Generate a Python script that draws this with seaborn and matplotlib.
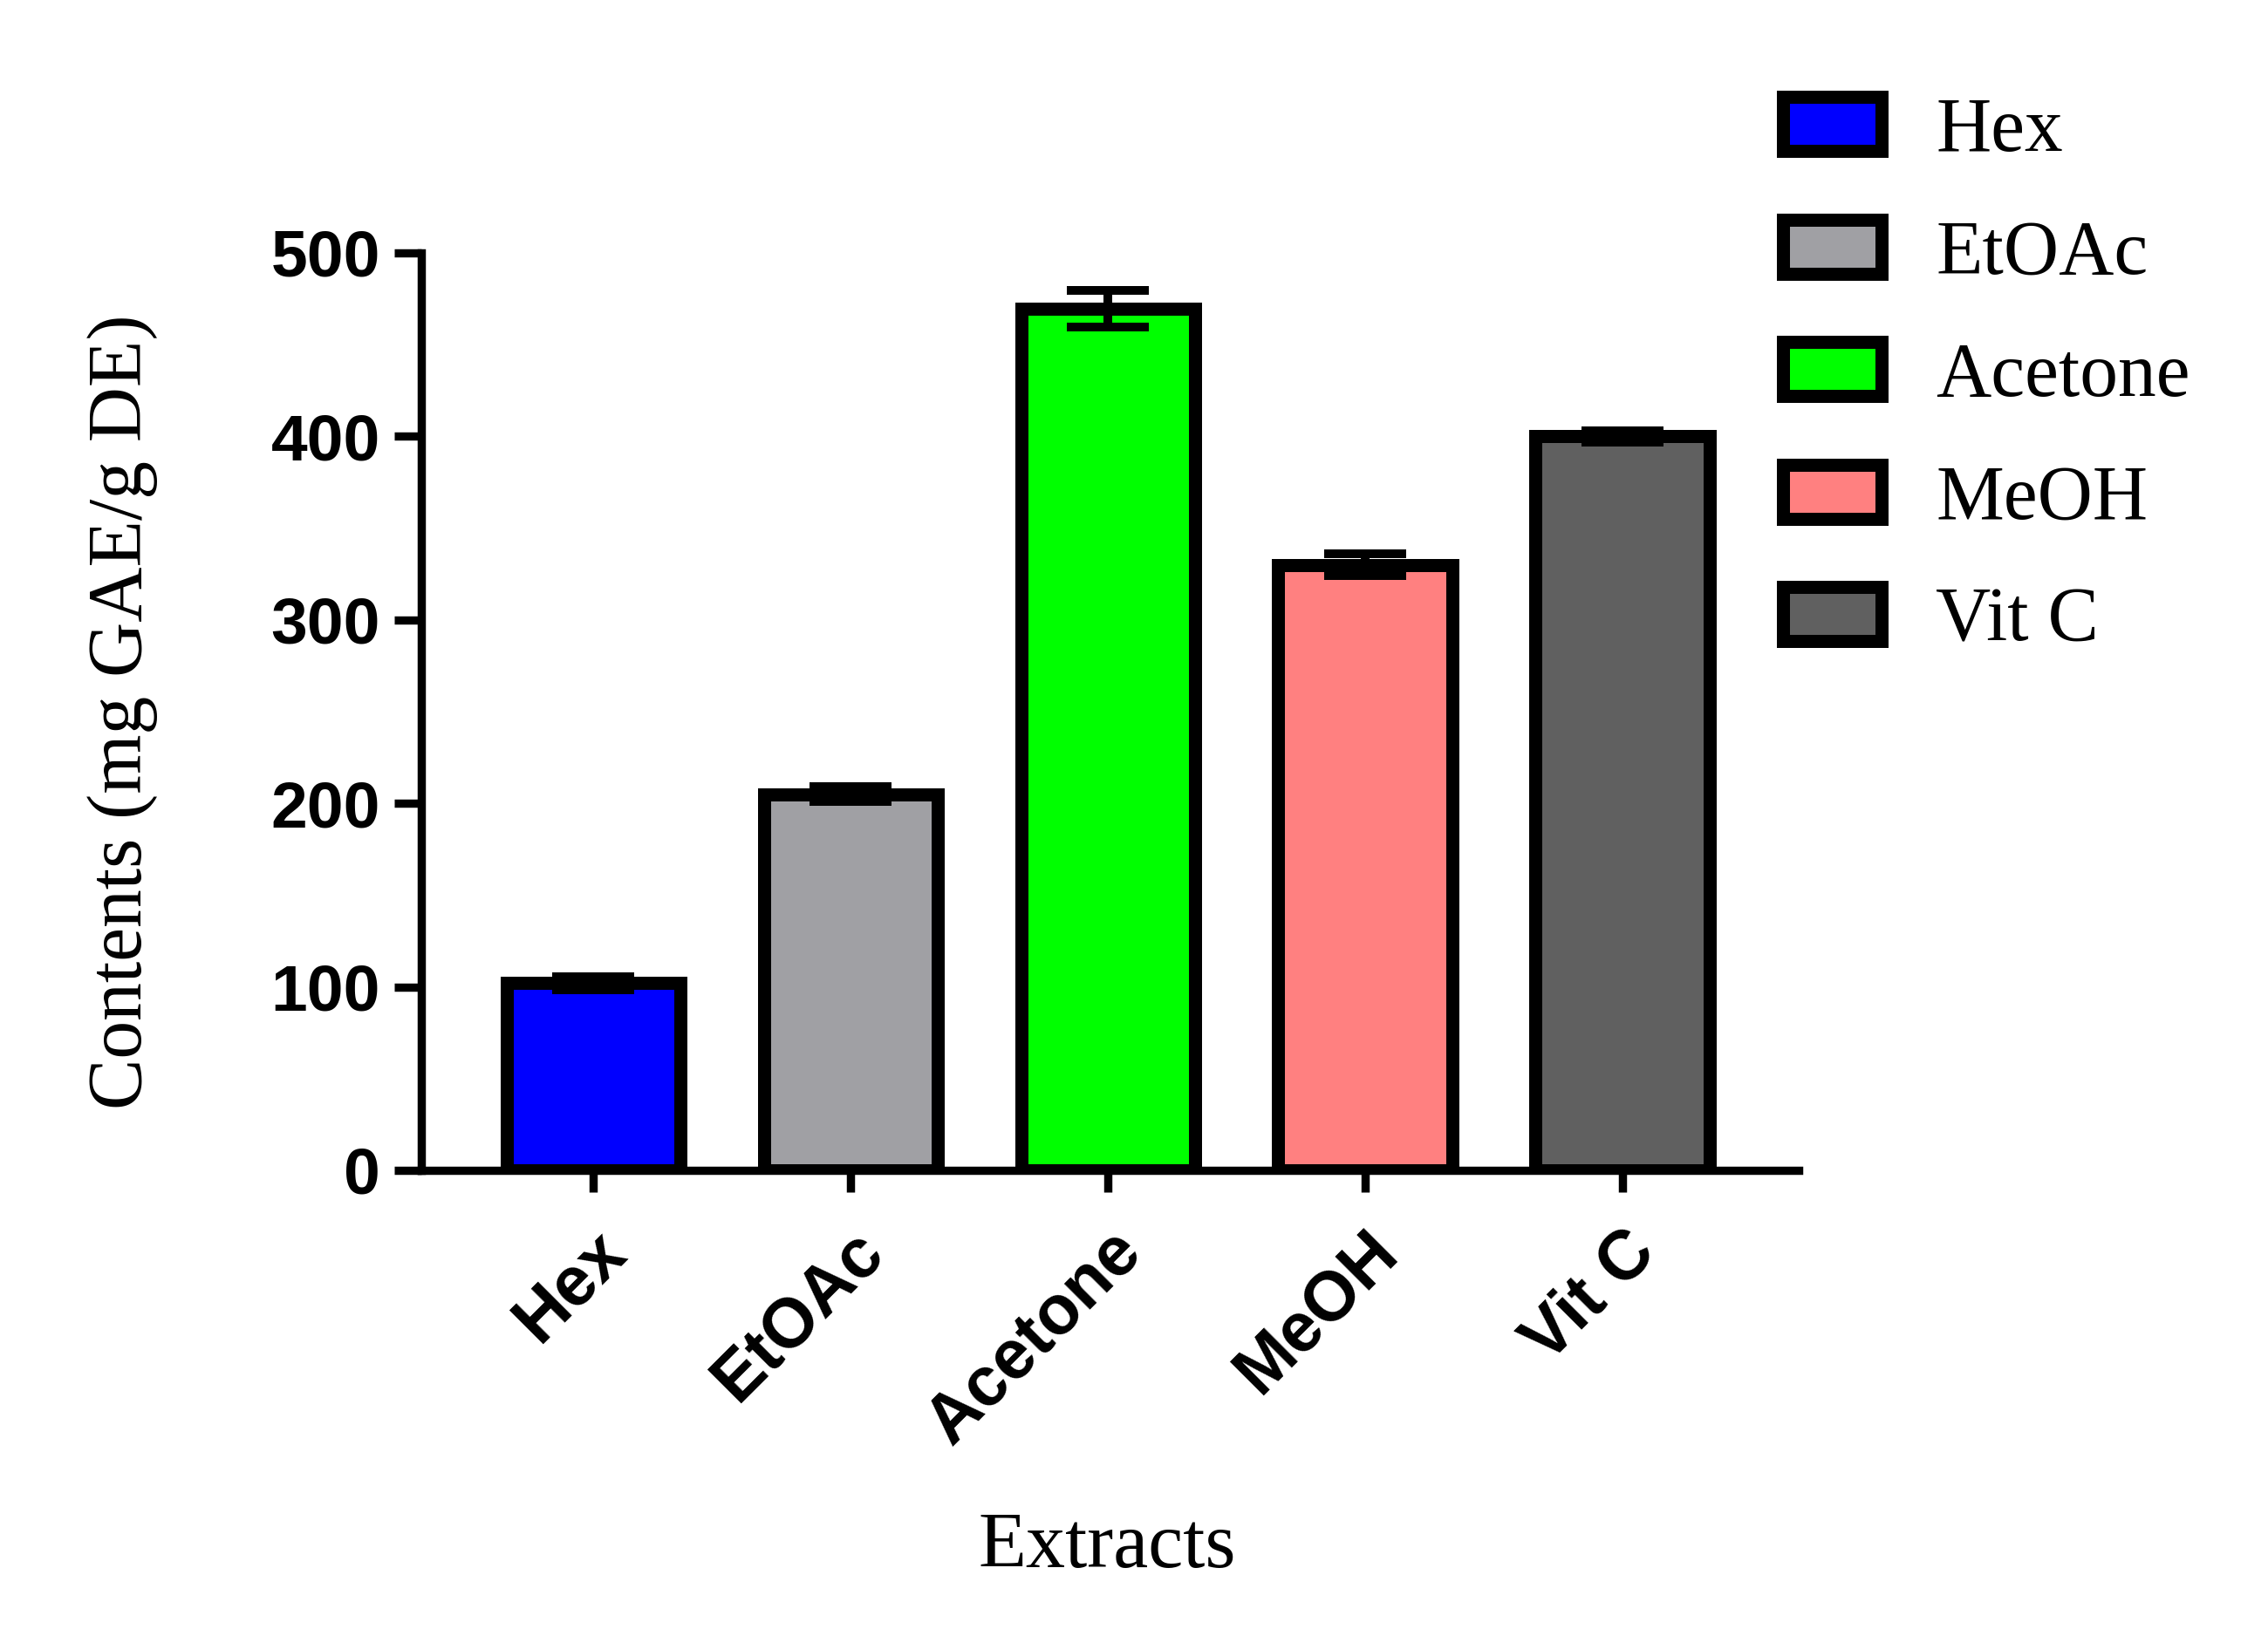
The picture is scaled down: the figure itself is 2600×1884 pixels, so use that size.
import numpy as np
import matplotlib
matplotlib.use("Agg")
import matplotlib.pyplot as plt
import seaborn as sns

# values
extracts = ["Hex", "EtOAc", "Acetone", "MeOH", "Vit C"]
contents = [102, 205, 469.5, 330, 400]
sd = [3.5, 4, 10, 6, 3]
colors = ["#0000FF", "#A0A0A4", "#00FF00", "#FF8080", "#606060"]

sns.set_style("ticks")
plt.rcParams["font.family"] = ["Liberation Sans", "DejaVu Sans"]
plt.rcParams["text.color"] = "black"
plt.rcParams["axes.labelcolor"] = "black"
plt.rcParams["xtick.color"] = "black"
plt.rcParams["ytick.color"] = "black"
plt.rcParams["axes.edgecolor"] = "black"

fig = plt.figure(figsize=(13, 9.42), dpi=200)
ax = fig.add_axes([0.1858, 0.2877, 0.6073, 0.5584])

sns.barplot(x=extracts, y=contents, hue=extracts, palette=colors,
            edgecolor="black", linewidth=5.4, width=0.675, saturation=1,
            legend=False, ax=ax)
ax.errorbar(x=np.arange(len(extracts)), y=contents, yerr=sd, fmt="none",
            ecolor="black", elinewidth=3.6, capsize=17, capthick=3.6, zorder=5)

ax.set_ylim(0, 500)
ax.set_xlim(-0.668, 4.685)
ax.set_yticks([0, 100, 200, 300, 400, 500])
sns.despine(ax=ax)
for s in ["left", "bottom"]:
    ax.spines[s].set_linewidth(3.4)

ax.tick_params(axis="y", length=11, width=3.4, labelsize=27, pad=6)
ax.tick_params(axis="x", length=9, width=3.4, labelsize=28.5, pad=11)
for lab in ax.get_yticklabels():
    lab.set_fontweight("bold")
for lab in ax.get_xticklabels():
    lab.set_fontweight("bold")
    lab.set_rotation(45)
    lab.set_ha("right")
    lab.set_rotation_mode("anchor")

ax.set_ylabel("Contents (mg GAE/g DE)", family="Liberation Serif", fontsize=31.5)
ax.set_xlabel("Extracts", family="Liberation Serif", fontsize=32.5)
ax.yaxis.set_label_coords(-0.191, 0.5)
ax.xaxis.set_label_coords(0.498, -0.372)

handles = ax.patches[:len(extracts)]
fig.legend(handles, extracts, loc="upper left", bbox_to_anchor=(0.756, 0.983),
           frameon=False, prop={"family": "Liberation Serif", "size": 31.5},
           handlelength=1.29, handleheight=0.72, handletextpad=0.71,
           labelspacing=0.68)

fig.savefig("out.png", dpi=200)
